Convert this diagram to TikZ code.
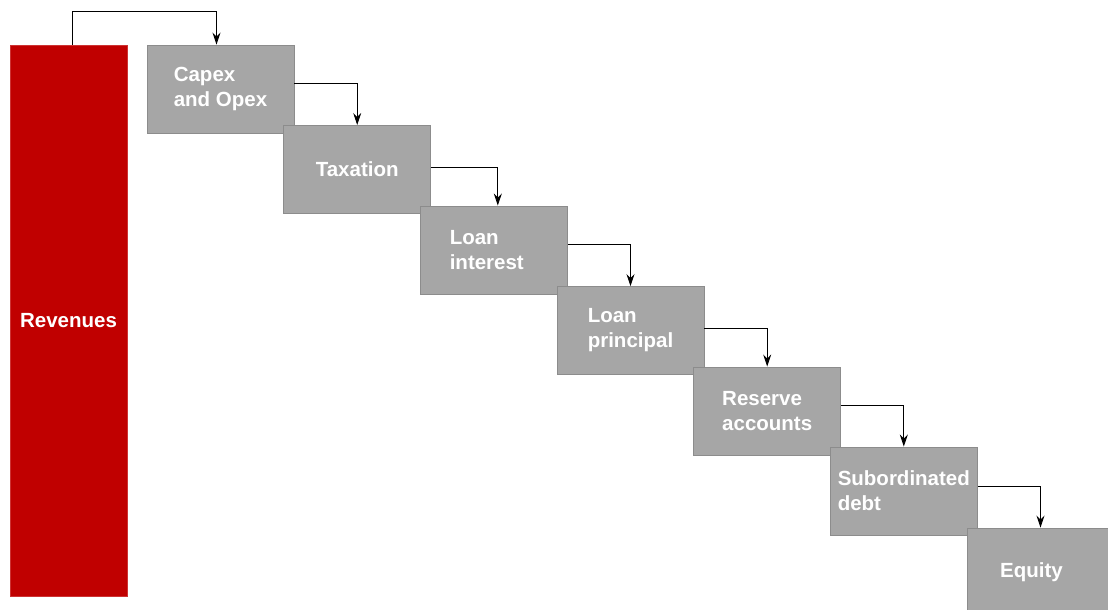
\documentclass[tikz,border=0pt]{standalone}
\usepackage{fontspec}
\setmainfont{Liberation Sans}
\usetikzlibrary{arrows.meta}
\definecolor{revred}{HTML}{C00000}
\definecolor{boxgray}{HTML}{A6A6A6}
\definecolor{boxedge}{HTML}{8C8C8C}
\tikzset{
  stepbox/.style={draw=boxedge, line width=0.9pt, fill=boxgray, minimum width=147pt, minimum height=88pt,
    inner sep=0pt, align=left, text=white, font=\fontsize{20.5}{25}\selectfont\bfseries},
  revbox/.style={draw=revred!80!white, line width=0.6pt, fill=revred, minimum width=117pt, minimum height=551pt,
    inner sep=0pt, align=left, text=white, font=\fontsize{20.5}{25}\selectfont\bfseries},
  conn/.style={draw=black, line width=0.9pt, -{Stealth[length=12pt,width=8pt,inset=4pt]}}
}
\begin{document}
\begin{tikzpicture}[x=1pt,y=-1pt]
\useasboundingbox (0,0) rectangle (1108,610);
\node[revbox] (rev) at (68.5,320.5) {Revenues};
\node[stepbox] (capex) at (220.5,89) {Capex\\and Opex};
\node[stepbox] (tax) at (357.2,169.5) {Taxation};
\node[stepbox] (lint) at (493.8,250) {Loan\\interest\hspace*{14pt}};
\node[stepbox] (lpri) at (630.5,330.5) {Loan\\principal};
\node[stepbox] (res) at (767.2,411) {Reserve\\accounts};
\node[stepbox] (sub) at (903.8,491) {Subordinated\\debt};
\node[stepbox] (eq) at (1040.5,572) {Equity\hspace*{18pt}};
\draw[conn] ([xshift=3.5pt]rev.north) -- ++(0,-33) -| ([xshift=-4pt]capex.north);
\draw[conn] ([yshift=6pt]capex.east) -| (tax.north);
\draw[conn] ([yshift=2pt]tax.east) -| ([xshift=4pt]lint.north);
\draw[conn] ([yshift=6pt]lint.east) -| (lpri.north);
\draw[conn] ([yshift=2pt]lpri.east) -| (res.north);
\draw[conn] ([yshift=6pt]res.east) -| (sub.north);
\draw[conn] ([yshift=5pt]sub.east) -| (eq.north);
\end{tikzpicture}
\end{document}
